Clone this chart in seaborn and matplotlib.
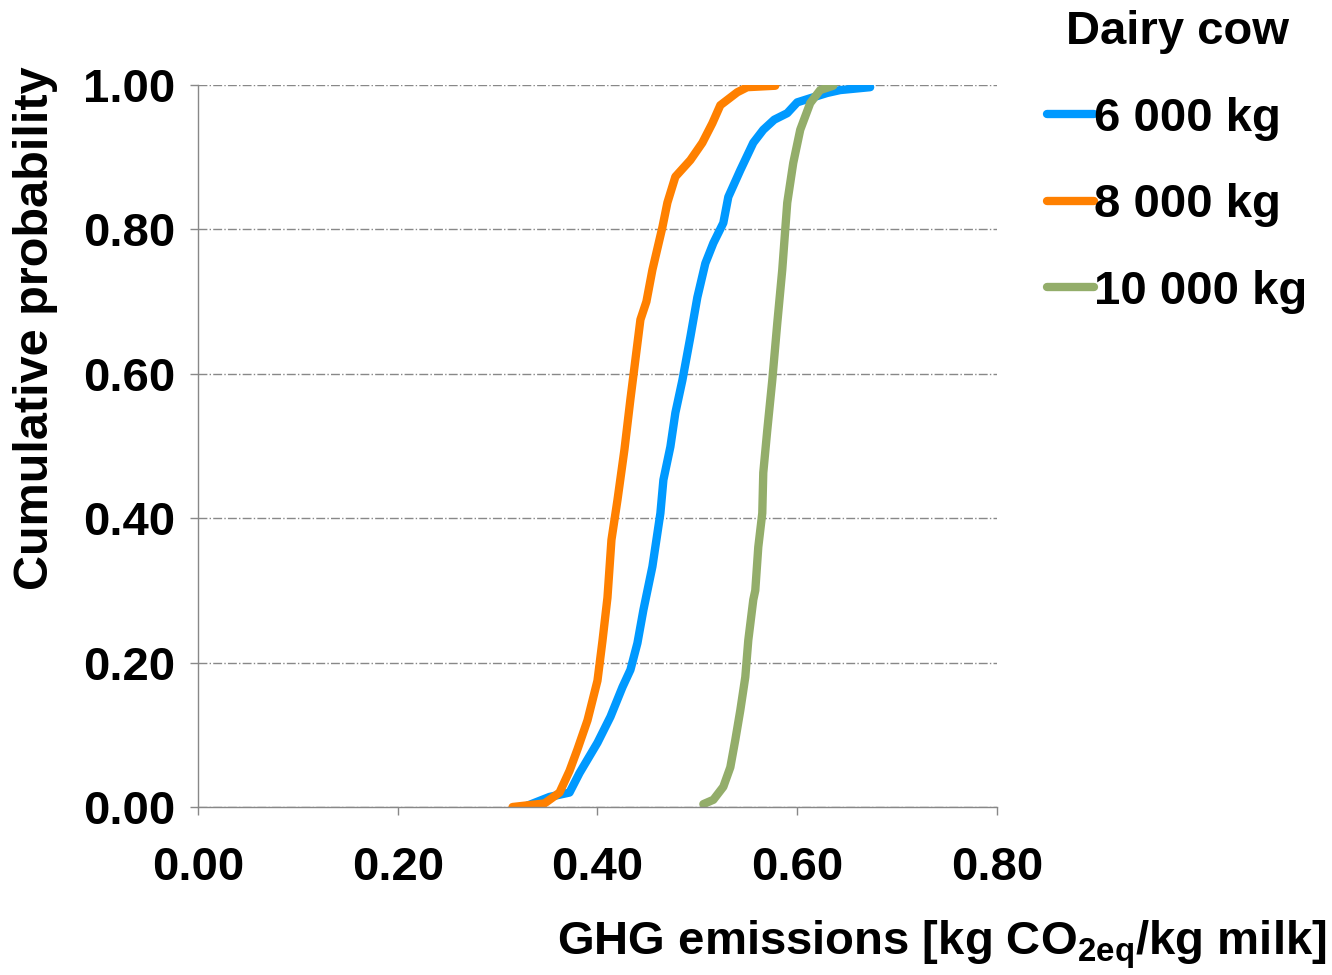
import numpy as np
import pandas as pd
import seaborn as sns
from matplotlib import pyplot as plt

# cumulative curves (x = kg CO2eq / kg milk, p = probability)
x_6000 = [0.330, 0.352, 0.372, 0.382, 0.400, 0.413, 0.425, 0.433, 0.440, 0.446,
          0.455, 0.463, 0.466, 0.473, 0.478, 0.485, 0.493, 0.500, 0.508, 0.516,
          0.526, 0.531, 0.543, 0.556, 0.566, 0.577, 0.590, 0.600, 0.616, 0.630,
          0.643, 0.673]
p_6000 = [0.002, 0.014, 0.020, 0.047, 0.089, 0.125, 0.166, 0.190, 0.227, 0.273,
          0.333, 0.407, 0.453, 0.499, 0.546, 0.591, 0.651, 0.706, 0.753, 0.781,
          0.809, 0.845, 0.882, 0.920, 0.938, 0.952, 0.961, 0.976, 0.983, 0.989,
          0.993, 0.997]

x_8000 = [0.315, 0.347, 0.362, 0.372, 0.380, 0.390, 0.400, 0.405, 0.410, 0.414,
          0.420, 0.427, 0.433, 0.438, 0.443, 0.449, 0.455, 0.465, 0.470, 0.478,
          0.493, 0.505, 0.515, 0.523, 0.540, 0.550, 0.578]
p_8000 = [0.000, 0.005, 0.020, 0.050, 0.080, 0.120, 0.175, 0.230, 0.290, 0.370,
          0.425, 0.495, 0.565, 0.620, 0.675, 0.700, 0.744, 0.803, 0.837, 0.873,
          0.896, 0.920, 0.947, 0.972, 0.990, 0.997, 0.999]

x_10000 = [0.506, 0.516, 0.526, 0.533, 0.538, 0.543, 0.548, 0.551, 0.556, 0.558,
           0.561, 0.565, 0.566, 0.570, 0.575, 0.580, 0.585, 0.590, 0.596, 0.603,
           0.613, 0.623, 0.636]
p_10000 = [0.004, 0.010, 0.028, 0.055, 0.093, 0.134, 0.180, 0.231, 0.287, 0.300,
           0.360, 0.407, 0.463, 0.522, 0.591, 0.670, 0.744, 0.837, 0.892, 0.938,
           0.975, 0.993, 0.999]

labels = ["6 000 kg", "8 000 kg", "10 000 kg"]
colors = ["#0099FF", "#FF8000", "#93AD6A"]

frames = []
for lab, xs, ps in zip(labels, [x_6000, x_8000, x_10000], [p_6000, p_8000, p_10000]):
    frames.append(pd.DataFrame({"ghg": xs, "prob": ps, "herd": lab}))
df = pd.concat(frames, ignore_index=True)

sns.set_style("white")
plt.rcParams["font.family"] = ["Liberation Sans", "DejaVu Sans"]
plt.rcParams["font.weight"] = "bold"
plt.rcParams["text.color"] = "black"
plt.rcParams["mathtext.fontset"] = "custom"
plt.rcParams["mathtext.rm"] = "Liberation Sans:bold"
plt.rcParams["mathtext.bf"] = "Liberation Sans:bold"

FS = 34

fig = plt.figure(figsize=(13.32, 9.75), dpi=100)
ax = fig.add_axes([0.1486, 0.1723, 0.5999, 0.7405])

sns.lineplot(data=df, x="ghg", y="prob", hue="herd", hue_order=labels,
             palette=colors, sort=False, estimator=None, linewidth=6,
             solid_capstyle="round", ax=ax, legend=False)

ax.set_xlim(0, 0.8)
ax.set_ylim(0, 1.0)
ax.set_xticks(np.arange(0, 0.81, 0.2))
ax.set_yticks(np.arange(0, 1.01, 0.2))
ax.set_xticklabels([f"{v:.2f}" for v in np.arange(0, 0.81, 0.2)])
ax.set_yticklabels([f"{v:.2f}" for v in np.arange(0, 1.01, 0.2)])
ax.tick_params(axis="both", labelsize=FS, length=6, width=1, color="#888888",
               labelcolor="black", direction="out")
ax.tick_params(axis="x", pad=22, bottom=True)
ax.tick_params(axis="y", pad=10, left=True)
for t in ax.get_xticklabels() + ax.get_yticklabels():
    t.set_fontweight("bold")

ax.yaxis.grid(True, linestyle="-.", color="#888888", linewidth=1)
ax.xaxis.grid(False)
for side in ["top", "right"]:
    ax.spines[side].set_visible(False)
for side in ["left", "bottom"]:
    ax.spines[side].set_color("#888888")
    ax.spines[side].set_linewidth(1)

ax.set_xlabel("")
ax.set_ylabel("")
fig.text(0.027, 1 - 328 / 975, "Cumulative probability", rotation=90,
         ha="center", va="center", fontsize=FS + 1, fontweight="bold")
fig.text(0.996, 1 - 945 / 975, r"GHG emissions [kg CO$_{\mathbf{2eq}}$/kg milk]",
         ha="right", va="center", fontsize=FS, fontweight="bold")

handles = [plt.Line2D([], [], color=c, linewidth=6, solid_capstyle="round")
           for c in colors]
leg = fig.legend(handles, labels, title="Dairy cow", loc="upper left",
                 bbox_to_anchor=(1040 / 1332, 1 - 3 / 975), frameon=False,
                 prop={"size": FS, "weight": "bold"}, handlelength=1.0,
                 handletextpad=0.0, labelspacing=0.9, borderaxespad=0,
                 borderpad=0.15)
leg.get_title().set_fontsize(FS)
leg.get_title().set_fontweight("bold")

fig.savefig("out.png", dpi=100)
